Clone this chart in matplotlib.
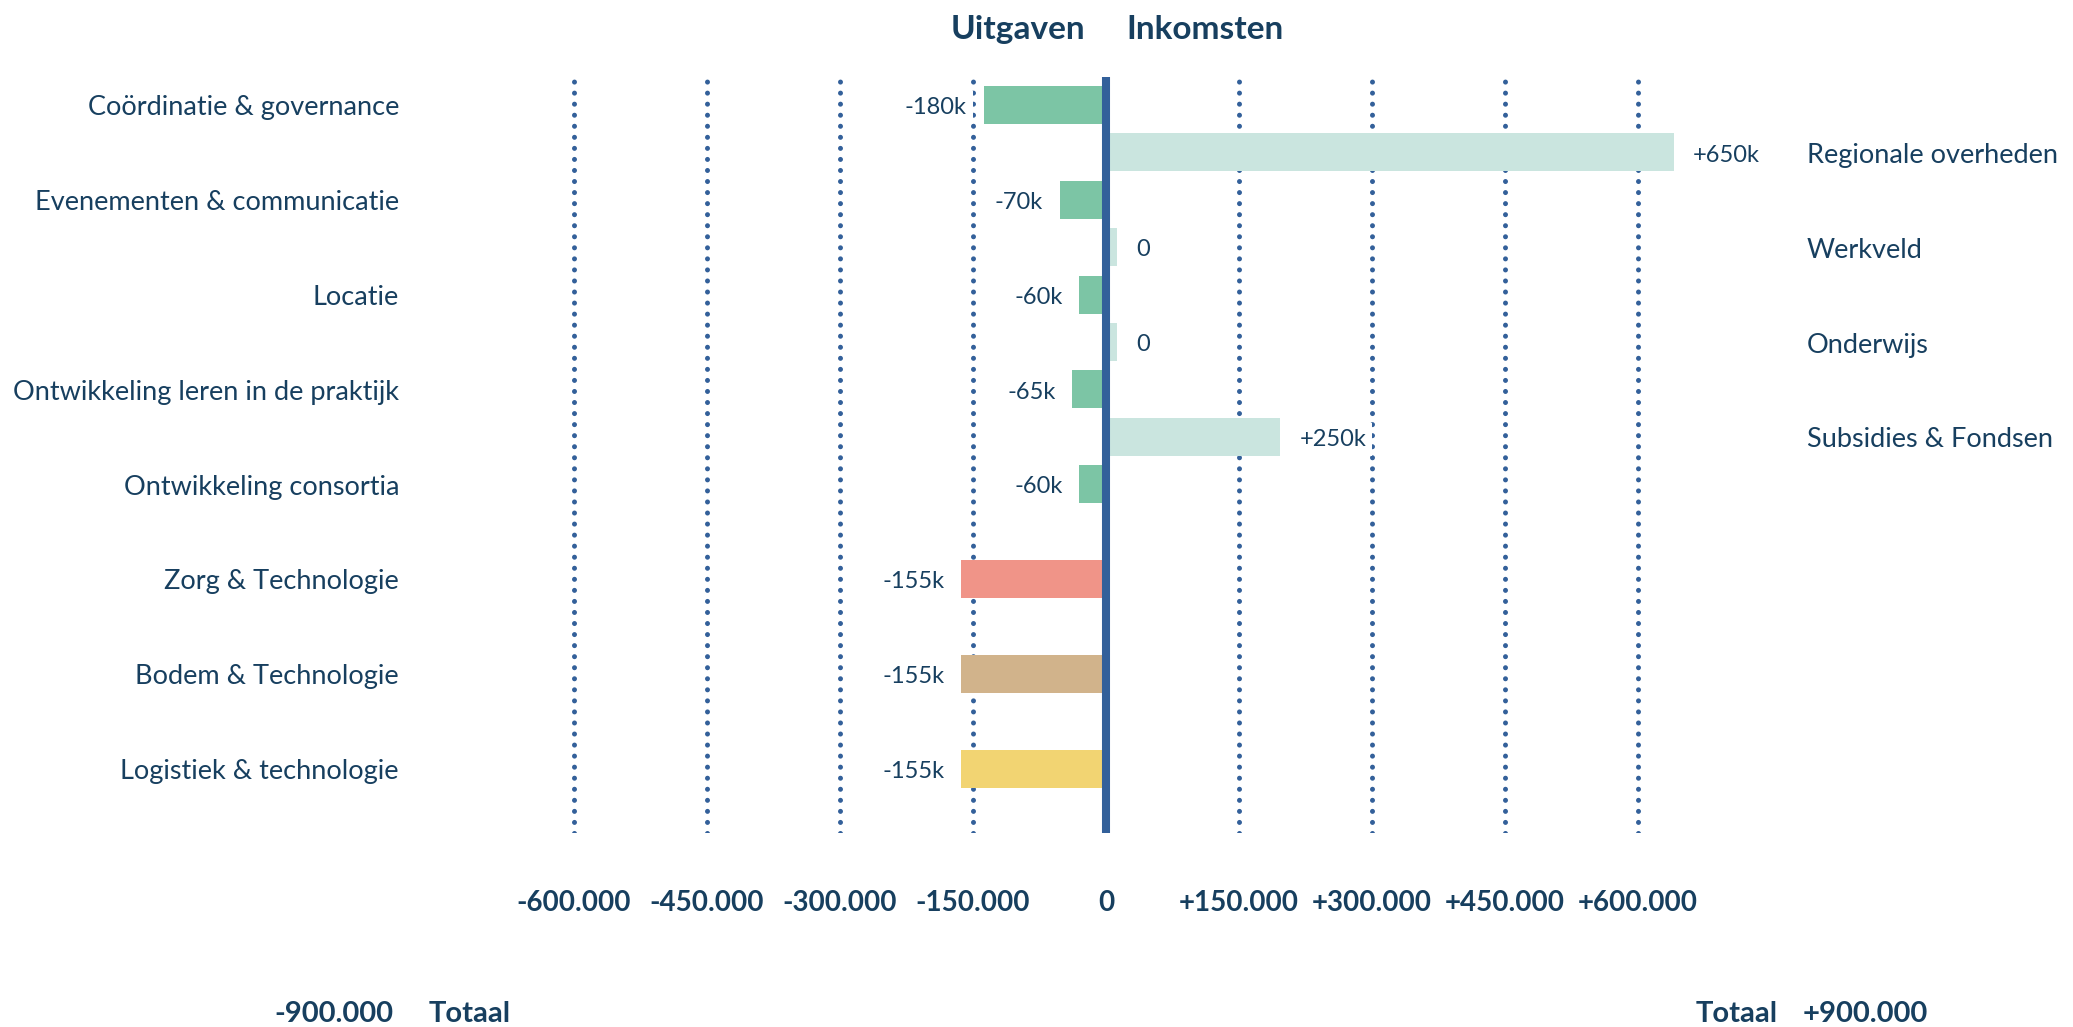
import numpy as np
import matplotlib.pyplot as plt
from matplotlib import transforms

plt.rcParams['font.family'] = ['Lato', 'DejaVu Sans']

# uitgaven (links) en inkomsten (rechts)
uitgaven_cat = ['Coördinatie & governance', 'Evenementen & communicatie', 'Locatie',
                'Ontwikkeling leren in de praktijk', 'Ontwikkeling consortia',
                'Zorg & Technologie', 'Bodem & Technologie', 'Logistiek & technologie']
uitgaven = [-180000, -70000, -60000, -65000, -60000, -155000, -155000, -155000]
# lengte van de balken zoals ze in het plaatje staan (niet op schaal met de labels)
uitgaven_balk = [-138000, -52000, -30000, -38000, -30000, -163000, -163000, -163000]
uitgaven_kleur = ['#7cc5a5'] * 5 + ['#f09488', '#d1b38b', '#f2d472']

inkomsten_cat = ['Regionale overheden', 'Werkveld', 'Onderwijs', 'Subsidies & Fondsen']
inkomsten = [650000, 0, 0, 250000]
inkomsten_balk = [640000, 12000, 12000, 196000]
inkomsten_kleur = '#cae5df'

ticks = [-600000, -450000, -300000, -150000, 0, 150000, 300000, 450000, 600000]

navy = '#173f5f'
blauw = '#33609a'

def eur(v):
    s = '{:,}'.format(abs(v)).replace(',', '.')
    if v > 0:
        return '+' + s
    if v < 0:
        return '-' + s
    return '0'

def kort(v):
    if v == 0:
        return '0'
    return ('+' if v > 0 else '-') + '%dk' % (abs(v) // 1000)

W, H = 2073, 1027
fig = plt.figure(figsize=(W / 100, H / 100), dpi=100)
ax = fig.add_axes([0, 1 - 833 / H, 1, (833 - 77) / H])

x0 = 1106  # pixel positie van nul
pxe = 0.887 / 1000  # pixels per euro
ax.set_xlim(-x0 / pxe, (W - x0) / pxe)
rij = 94.8
ax.set_ylim((833 - 105) / rij, -(105 - 77) / rij)

y_uit = np.arange(len(uitgaven))
y_in = np.arange(len(inkomsten)) + 0.5
bh = 38 / rij
dy = 3 / rij  # tekst iets lager

ax.barh(y_uit, uitgaven_balk, height=bh, color=uitgaven_kleur, zorder=2)
ax.barh(y_in, inkomsten_balk, height=bh, color=inkomsten_kleur, zorder=2)

# gestippelde rasterlijnen
for t in ticks:
    if t != 0:
        ax.axvline(t, color=blauw, lw=3.6, ls=(0, (0.01, 2.2)), dash_capstyle='round', zorder=1)
ax.axvline(0, color=blauw, lw=5.8, zorder=4)

bb = dict(fc='white', ec='none', boxstyle='square,pad=0.25')
for y, v, b in zip(y_uit, uitgaven, uitgaven_balk):
    ax.annotate(kort(v), xy=(b, y), xytext=(-12, -2), textcoords='offset points',
                ha='right', va='center', fontsize=17, color=navy, bbox=bb, zorder=3)
for y, v, b in zip(y_in, inkomsten, inkomsten_balk):
    ax.annotate(kort(v), xy=(b, y), xytext=(14, -2), textcoords='offset points',
                ha='left', va='center', fontsize=17, color=navy, bbox=bb, zorder=3)

tr = transforms.blended_transform_factory(fig.transFigure, ax.transData)
for y, c in zip(y_uit, uitgaven_cat):
    ax.text(399 / W, y + dy, c, transform=tr, ha='right', va='center', fontsize=19.5, color=navy)
for y, c in zip(y_in, inkomsten_cat):
    ax.text(1807 / W, y + dy, c, transform=tr, ha='left', va='center', fontsize=19.5, color=navy)

ax.set_xticks(ticks, [eur(t) for t in ticks])
ax.tick_params(axis='x', length=0, pad=41, labelsize=20, labelcolor=navy)
for lab in ax.get_xticklabels():
    lab.set_fontweight('bold')
ax.set_yticks([])
for s in ax.spines.values():
    s.set_visible(False)

fig.text(1085 / W, 1 - 39 / H, 'Uitgaven', ha='right', va='baseline', fontsize=24,
         fontweight='bold', color=navy)
fig.text(1126 / W, 1 - 39 / H, 'Inkomsten', ha='left', va='baseline', fontsize=24,
         fontweight='bold', color=navy)

fig.text(393 / W, 1 - 1022 / H, eur(sum(uitgaven)), ha='right', va='baseline', fontsize=21,
         fontweight='bold', color=navy)
fig.text(429 / W, 1 - 1022 / H, 'Totaal', ha='left', va='baseline', fontsize=21,
         fontweight='bold', color=navy)
fig.text(1778 / W, 1 - 1022 / H, 'Totaal', ha='right', va='baseline', fontsize=21,
         fontweight='bold', color=navy)
fig.text(1803 / W, 1 - 1022 / H, eur(sum(inkomsten)), ha='left', va='baseline', fontsize=21,
         fontweight='bold', color=navy)

plt.savefig('out.png', dpi=100, facecolor='white')
